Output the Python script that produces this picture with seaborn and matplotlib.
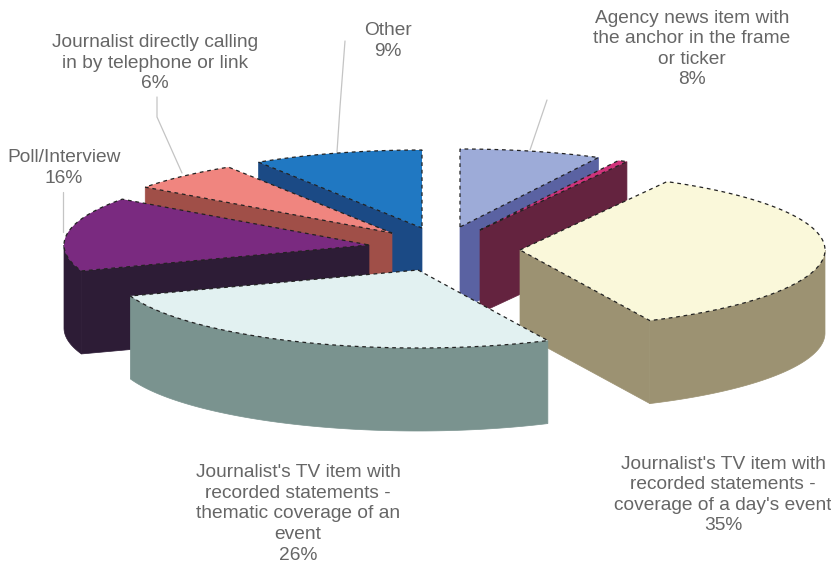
#!/usr/bin/env python3
# -*- coding: utf-8 -*-
# exploded 3D pie, drawn by hand since matplotlib has no 3D pie
import numpy as np
import matplotlib
matplotlib.use('Agg')
import matplotlib.pyplot as plt
from matplotlib.patches import Polygon
import seaborn as sns

#Shares, the maroon sliver has no label of its own
slice_names = ['Agency', 'Unlabelled', 'Day event', 'Thematic', 'Poll', 'Phone', 'Other']
shares = [7.5, 0.5, 35, 26.6, 15.4, 6, 9]

labels = ["Agency news item with\nthe anchor in the frame\nor ticker\n8%",
          "Journalist directly calling\nin by telephone or link\n6%",
          "Other\n9%",
          "Poll/Interview\n16%",
          "Journalist's TV item with\nrecorded statements -\nthematic coverage of an\nevent\n26%",
          "Journalist's TV item with\nrecorded statements -\ncoverage of a day's event\n35%"]
label_x = [692, 155, 388, 64, 298, 723]
label_y = [49, 63, 41, 168, 514, 495]

top_colors = sns.color_palette(['#9dabd8', '#d0327a', '#faf8da', '#e2f1f1', '#7a2a80', '#f0857f', '#2078c2'])
wall_colors = sns.color_palette(['#5a62a2', '#64233f', '#9c9272', '#7a938f', '#2d1c36', '#a04f48', '#1b4a85'])

#Where each slice's tip sits after the explosion
tip_x = [460, 480, 520, 418, 369, 392, 422]
tip_y = [227, 230, 250, 270, 245, 233, 228]
#Back to front
draw_order = [6, 5, 0, 1, 4, 2, 3]

RX = 305
RY = 78
DEPTH = 83

sns.set_theme(style='white')
plt.rcParams['font.family'] = ['Liberation Sans', 'DejaVu Sans']

fig = plt.figure(figsize=(8.31, 5.69), dpi=100)
ax = fig.add_axes([0, 0, 1, 1])
ax.set_xlim(0, 831)
ax.set_ylim(569, 0)
ax.axis('off')

edges = np.cumsum([0] + shares) / np.sum(shares) * 2 * np.pi


def rim(cx, cy, a, b):
    t = np.linspace(a, b, max(int(np.degrees(b - a)) * 2, 2))
    return np.column_stack([cx + RX * np.sin(t), cy - RY * np.cos(t)])


def wall(pts, color):
    low = pts[::-1] + [0, DEPTH]
    ax.add_patch(Polygon(np.vstack([pts, low]), closed=True, fc=color, ec=color, lw=0.5))


for i in draw_order:
    a, b = edges[i], edges[i + 1]
    cx, cy = tip_x[i], tip_y[i]
    tip = np.array([[cx, cy]])
    arc = rim(cx, cy, a, b)
    #Only the faces turned towards the viewer get drawn
    if np.sin(a) < 0:
        wall(np.vstack([tip, arc[:1]]), wall_colors[i])
    if np.sin(b) > 0:
        wall(np.vstack([tip, arc[-1:]]), wall_colors[i])
    lo, hi = max(a, np.pi / 2), min(b, 3 * np.pi / 2)
    if hi > lo:
        wall(rim(cx, cy, lo, hi), wall_colors[i])
    top = np.vstack([tip, arc])
    ax.add_patch(Polygon(top, closed=True, fc=top_colors[i], ec='none'))
    ax.add_patch(Polygon(top, closed=True, fill=False, ec='#222222', lw=0.9, ls=(0, (3, 3))))

#Leader lines from the labels to the slices
leaders = [([547, 530], [100, 150]),
           ([157, 157, 182], [97, 117, 173]),
           ([345, 340, 337], [41, 107, 152]),
           ([63, 63], [192, 232])]
for xs, ys in leaders:
    ax.plot(xs, ys, color='#c4c4c4', lw=0.9, zorder=0.5)

for text, x, y in zip(labels, label_x, label_y):
    ax.text(x, y, text, ha='center', va='center', fontsize=13.8, color='#666666', linespacing=1.27)

fig.savefig('out.png', dpi=100)
